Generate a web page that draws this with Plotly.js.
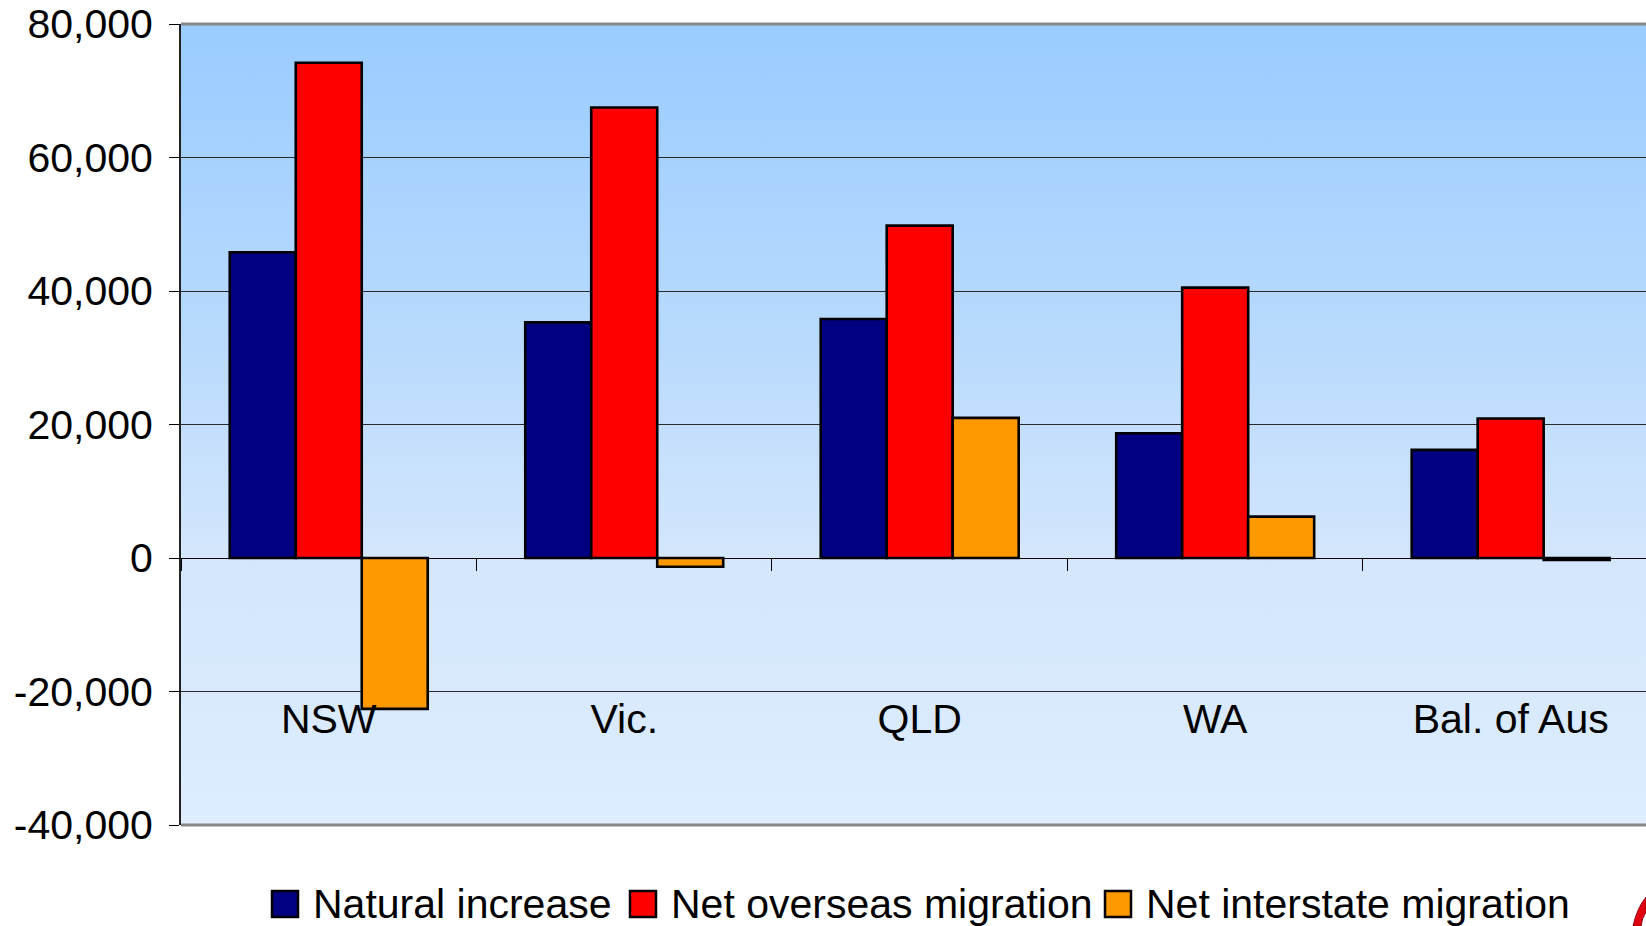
<!DOCTYPE html>
<html>
<head>
<meta charset="utf-8">
<script src="https://cdn.plot.ly/plotly-3.0.1.min.js"></script>
<style>
  html, body { margin: 0; padding: 0; background: #ffffff; }
  #wrap { position: relative; width: 1646px; height: 926px; overflow: hidden; background: #ffffff; }
  #bg { position: absolute; left: 181px; top: 24px; width: 1465px; height: 801px;
        background: linear-gradient(to bottom, #99CCFF 0%, #B9DAFD 40%, #D3E6FC 66%, #DEEDFF 100%); }
  #chart { position: absolute; left: 0; top: 0; width: 1646px; height: 926px; }
</style>
</head>
<body>
<div id="wrap">
  <div id="bg"></div>
  <div id="chart"></div>
</div>
<script>
// ---- data ----
const categories = ['NSW', 'Vic.', 'QLD', 'WA', 'Bal. of Aus'];
const naturalIncrease = [45800, 35300, 35800, 18700, 16200];
const netOverseas = [74200, 67500, 49800, 40500, 20900];
const netInterstate = [-22600, -1300, 21000, 6200, -300];
const seriesNames = ['Natural increase', 'Net overseas migration', 'Net interstate migration'];
const yTickVals = [-40000, -20000, 0, 20000, 40000, 60000, 80000];
const yTickText = ['-40,000', '-20,000', '0', '20,000', '40,000', '60,000', '80,000'];

const FONT = 'Liberation Sans, Arial, Helvetica, sans-serif';
const FS = 41;
const colors = ['#000080', '#FF0000', '#FF9900'];
const seriesValues = [naturalIncrease, netOverseas, netInterstate];

const traces = seriesValues.map((vals, i) => ({
  type: 'bar',
  name: seriesNames[i],
  x: categories,
  y: vals,
  marker: { color: colors[i], line: { color: '#000000', width: 2.6 } },
  hoverinfo: 'x+y+name'
}));

// plot area in pixels (for placing the custom legend)
const PL = 181, PW = 1465, PT = 24, PH = 801;
const px2x = px => (px - PL) / PW;
const py2y = py => (PT + PH - py) / PH;

// legend layout (pixel positions of each key box left edge)
const legendBoxLeft = [272, 630, 1105];
const BOX = 26, boxTop = 891, textGap = 13, textMid = 904;

const shapes = [
  { type: 'line', xref: 'paper', yref: 'paper', x0: 0, x1: 1, y0: 1, y1: 1,
    line: { color: '#888888', width: 3 } },
  { type: 'line', xref: 'paper', yref: 'paper', x0: 0, x1: 1, y0: 0, y1: 0,
    line: { color: '#888888', width: 3 } }
];
const annotations = [];
seriesNames.forEach((nm, i) => {
  const l = legendBoxLeft[i];
  shapes.push({
    type: 'rect', xref: 'paper', yref: 'paper',
    x0: px2x(l), x1: px2x(l + BOX), y0: py2y(boxTop + BOX), y1: py2y(boxTop),
    fillcolor: colors[i], line: { color: '#000000', width: 2.5 }
  });
  annotations.push({
    xref: 'paper', yref: 'paper', x: px2x(l + BOX + textGap), y: py2y(textMid),
    xanchor: 'left', yanchor: 'middle', showarrow: false, text: nm,
    font: { family: FONT, size: FS, color: '#000000' }
  });
});

// small piece of a red logo cut off at the bottom-right corner
const P = (x, y) => px2x(x).toFixed(5) + ',' + py2y(y).toFixed(5);
shapes.push({
  type: 'path', xref: 'paper', yref: 'paper',
  path: 'M' + P(1633, 926) + ' Q' + P(1637, 908) + ' ' + P(1646, 897) +
        ' L' + P(1646, 912) + ' Q' + P(1642, 918) + ' ' + P(1641, 926) + ' Z',
  fillcolor: '#E00010', line: { color: '#900010', width: 1 }
});

const layout = {
  width: 1646,
  height: 926,
  margin: { l: PL, r: 0, t: PT, b: 926 - PT - PH, pad: 0 },
  paper_bgcolor: 'rgba(0,0,0,0)',
  plot_bgcolor: 'rgba(0,0,0,0)',
  font: { family: FONT, size: FS, color: '#000000' },
  barmode: 'group',
  bargap: 0.33,
  bargroupgap: 0,
  showlegend: false,
  xaxis: {
    type: 'category',
    range: [-0.5, 4.458],
    anchor: 'free',
    position: 1 / 3,
    showline: true,
    linecolor: '#000000',
    linewidth: 1,
    ticks: 'outside',
    tickson: 'boundaries',
    ticklen: 12,
    tickwidth: 1,
    tickcolor: '#000000',
    showgrid: false,
    zeroline: false,
    ticklabelstandoff: 125,
    tickfont: { family: FONT, size: FS, color: '#000000' },
    fixedrange: true
  },
  yaxis: {
    range: [-40000, 80000],
    tickmode: 'array',
    tickvals: yTickVals,
    ticktext: yTickText,
    showline: true,
    linecolor: '#222222',
    linewidth: 2,
    ticks: 'outside',
    ticklen: 10,
    tickwidth: 1,
    tickcolor: '#000000',
    showgrid: true,
    gridcolor: '#2a2a2a',
    gridwidth: 1,
    zeroline: false,
    ticklabelstandoff: 8,
    tickfont: { family: FONT, size: FS, color: '#000000' },
    fixedrange: true
  },
  shapes: shapes,
  annotations: annotations
};

Plotly.newPlot('chart', traces, layout, { displayModeBar: false, staticPlot: true });
</script>
</body>
</html>
